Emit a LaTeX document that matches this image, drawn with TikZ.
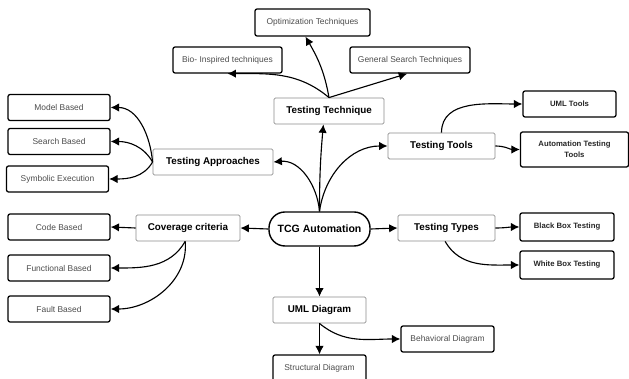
\documentclass[tikz,border=0pt]{standalone}
\usepackage{fontspec}
\setmainfont{Liberation Sans}
\usetikzlibrary{arrows.meta}
\tikzset{>={Latex[length=6pt,width=6pt]}}
\tikzset{
  leaf/.style={draw=black, line width=0.9pt, rounded corners=1.5pt, minimum width=2.55cm, minimum height=0.65cm, inner sep=0pt, text=black!70, font=\fontsize{6}{7}\selectfont},
  leafbold/.style={leaf, text=black!85, font=\fontsize{5.5}{7}\selectfont\bfseries},
  hub/.style={draw=black!45, line width=0.6pt, rounded corners=1pt, minimum height=0.65cm, inner sep=0pt, font=\fontsize{7}{8}\selectfont\bfseries},
  root/.style={draw=black, line width=1pt, rounded corners=0.4cm, minimum width=2.525cm, minimum height=0.85cm, inner sep=0pt, font=\fontsize{7.5}{9}\selectfont\bfseries},
  link/.style={->, line width=0.8pt}
}
\begin{document}
\begin{tikzpicture}[x=0.025cm,y=0.025cm]
    \useasboundingbox (0,0) rectangle (629,379);
    % centre and first ring
    \node [root] (tcg) at (319.5,150) {TCG Automation};
    \node [hub, minimum width=2.75cm] (tech) at (329,268) {Testing Technique};
    \node [hub, minimum width=3cm] (appr) at (213,217) {Testing Approaches};
    \node [hub, minimum width=2.675cm] (tools) at (441.5,233) {Testing Tools};
    \node [hub, minimum width=2.6cm] (cov) at (188,151) {Coverage criteria};
    \node [hub, minimum width=2.425cm] (types) at (446.5,151) {Testing Types};
    \node [hub, minimum width=2.325cm] (umld) at (319.5,69) {UML Diagram};
    % leaves
    \node [leaf, minimum width=2.875cm, minimum height=0.675cm] (opt) at (312.5,356.5) {Optimization Techniques};
    \node [leaf, minimum width=2.725cm] (bio) at (227.5,319) {Bio- Inspired techniques};
    \node [leaf, minimum width=3cm] (gen) at (410,319) {General Search Techniques};
    \node [leaf] (model) at (59,271.5) {Model Based};
    \node [leaf] (search) at (59,237.5) {Search Based};
    \node [leaf] (symb) at (57.5,200) {Symbolic Execution};
    \node [leafbold, minimum width=2.325cm] (umlt) at (569.5,275) {UML Tools};
    \node [leafbold, minimum width=2.7cm, minimum height=0.875cm, align=center] (autot) at (574.5,229.5) {Automation Testing\\[1pt]Tools};
    \node [leaf] (code) at (59,152) {Code Based};
    \node [leaf] (func) at (59,111) {Functional Based};
    \node [leaf] (fault) at (59,70) {Fault Based};
    \node [leafbold, minimum width=2.35cm, minimum height=0.7cm] (black) at (567,152) {Black Box Testing};
    \node [leafbold, minimum width=2.35cm, minimum height=0.7cm] (white) at (567,114) {White Box Testing};
    \node [leaf, minimum width=2.325cm] (behav) at (447.5,40) {Behavioral Diagram};
    \node [leaf, minimum width=2.325cm] (struct) at (319.5,11) {Structural Diagram};
    % links
    \draw [link] (tcg.north) to[out=90,in=-95] ([xshift=-4pt]tech.south);
    \draw [link] (tcg.north) to[out=95,in=5] (appr.east);
    \draw [link] (tcg.north) to[out=82,in=180] (tools.west);
    \draw [link] (tcg.west) -- (cov.east);
    \draw [link] (tcg.east) -- (types.west);
    \draw [link] (tcg.south) -- (umld.north);
    \draw [link] (tech.north) to[out=100,in=-60] ([xshift=-5pt]opt.south);
    \draw [link] (tech.north) to[out=140,in=0] (bio.south);
    \draw [link] (tech.north) -- ([xshift=-2pt]gen.south);
    \draw [link] (appr.west) to[out=95,in=0] (model.east);
    \draw [link] (appr.west) to[out=120,in=0] (search.east);
    \draw [link] (appr.west) to[out=-120,in=0] (symb.east);
    \draw [link] (tools.north) to[out=90,in=180] (umlt.west);
    \draw [link] (tools.east) to[out=0,in=180] (autot.west);
    \draw [link] (cov.west) -- (code.east);
    \draw [link] ([xshift=-2pt]cov.south) to[out=-120,in=0] (func.east);
    \draw [link] ([xshift=-2pt]cov.south) to[out=-85,in=0] (fault.east);
    \draw [link] (types.east) to[out=0,in=180] (black.west);
    \draw [link] ([xshift=-1pt]types.south) to[out=-60,in=180] (white.west);
    \draw [link] (umld.south) to[out=-40,in=180] (behav.west);
    \draw [link] (umld.south) -- (struct.north);
\end{tikzpicture}
\end{document}
